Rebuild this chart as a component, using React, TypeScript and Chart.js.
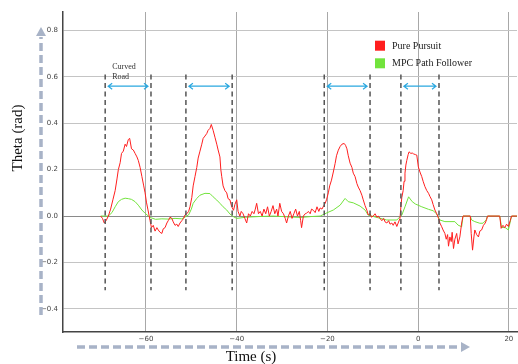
import React, { useEffect, useRef } from 'react';
import { Chart, registerables } from 'chart.js';

Chart.register(...registerables);

// ---- Data ----
const timePursuit = [
  -70.0, -69.6, -69.2, -68.8, -68.3, -67.8, -67.3, -66.8, -66.4, -66.1, -65.7, -65.4, -65.0, -64.6, -64.3, -63.9,
  -63.6, -63.2, -62.8, -62.4, -62.0, -61.7, -61.3, -60.9, -60.5, -60.2, -59.9, -59.6, -59.1, -58.8, -58.4, -58.0,
  -57.6, -57.3, -56.9, -56.5, -56.2, -55.8, -55.4, -55.1, -54.7, -54.3, -54.0, -53.6, -53.2, -52.9, -52.5, -52.1,
  -51.7, -51.4, -51.0, -50.6, -50.3, -49.9, -49.6, -49.2, -48.8, -48.5, -48.1, -47.7, -47.4, -47.0, -46.6, -46.3,
  -45.9, -45.6, -45.2, -44.8, -44.4, -44.1, -43.7, -43.5, -43.3, -43.0, -42.6, -42.2, -41.9, -41.5, -41.1, -40.7,
  -40.4, -40.0, -39.7, -39.3, -39.0, -38.6, -38.2, -37.8, -37.4, -37.0, -36.6, -36.2, -35.9, -35.6, -35.2, -34.8,
  -34.4, -34.0, -33.6, -33.2, -32.8, -32.4, -32.0, -31.6, -31.2, -30.9, -30.5, -30.1, -29.7, -29.3, -29.0, -28.6,
  -28.2, -27.8, -27.4, -27.0, -26.6, -26.2, -25.9, -25.7, -25.3, -24.9, -24.6, -24.2, -23.8, -23.5, -23.1, -22.7,
  -22.3, -21.9, -21.6, -21.2, -20.8, -20.5, -20.2, -19.8, -19.5, -19.1, -18.7, -18.3, -18.0, -17.6, -17.2, -16.8,
  -16.3, -16.0, -15.7, -15.4, -15.0, -14.6, -14.3, -13.9, -13.5, -13.2, -12.8, -12.4, -12.1, -11.7, -11.3, -11.0,
  -10.6, -10.3, -9.9, -9.5, -9.1, -8.8, -8.4, -8.0, -7.6, -7.3, -6.9, -6.5, -6.2, -5.8, -5.5, -5.1,
  -4.7, -4.4, -4.0, -3.8, -3.6, -3.3, -3.1, -2.9, -2.7, -2.5, -2.2, -2.0, -1.6, -1.3, -1.0, -0.6,
  -0.3, 0.05, 0.4, 0.8, 1.1, 1.5, 1.9, 2.3, 2.6, 3.0, 3.3, 3.7, 4.1, 4.5, 4.8, 5.2,
  5.5, 5.9, 6.2, 6.5, 6.7, 7.0, 7.3, 7.5, 7.8, 8.1, 8.5, 8.8, 9.2, 9.6, 9.9, 11.5,
  11.7, 12.0, 12.3, 12.5, 12.9, 13.3, 13.6, 14.0, 14.4, 14.8, 15.1, 15.3, 18.0, 18.3, 18.7, 19.1,
  19.5, 19.9, 20.3, 20.6, 21.8,
];
const pursuitTheta = [
  0.0, -0.01, -0.03, -0.02, 0.0, 0.03, 0.07, 0.11, 0.16, 0.2, 0.23, 0.27, 0.28, 0.31, 0.3, 0.33,
  0.335, 0.29, 0.285, 0.27, 0.255, 0.24, 0.21, 0.17, 0.13, 0.1, 0.06, 0.03, -0.02, -0.05, -0.04, -0.065,
  -0.05, -0.06, -0.07, -0.075, -0.055, -0.05, -0.03, -0.02, -0.005, -0.01, -0.025, -0.04, -0.035, -0.045, -0.03, -0.02,
  -0.01, 0.005, 0.01, 0.02, 0.04, 0.08, 0.13, 0.17, 0.21, 0.25, 0.28, 0.31, 0.335, 0.345, 0.356, 0.37,
  0.378, 0.395, 0.37, 0.34, 0.31, 0.285, 0.255, 0.2, 0.17, 0.13, 0.11, 0.1, 0.075, 0.07, 0.04, 0.025,
  0.05, 0.07, 0.02, 0.0, 0.02, 0.01, -0.01, -0.03, 0.01, 0.0, 0.02, 0.01, 0.03, 0.055, 0.01, 0.02,
  0.0, 0.03, 0.01, 0.04, 0.0, 0.02, 0.045, 0.01, 0.03, 0.0, 0.055, 0.02, 0.01, -0.01, -0.03, 0.0,
  0.02, -0.01, 0.01, 0.03, 0.0, 0.02, -0.02, -0.05, 0.0, 0.01, 0.012, 0.02, 0.01, 0.03, 0.025, 0.015,
  0.04, 0.02, 0.035, 0.03, 0.045, 0.055, 0.07, 0.1, 0.13, 0.155, 0.19, 0.227, 0.26, 0.284, 0.3, 0.31,
  0.313, 0.305, 0.29, 0.26, 0.228, 0.21, 0.185, 0.17, 0.14, 0.125, 0.11, 0.09, 0.07, 0.045, 0.025, 0.005,
  0.01, -0.005, 0.0, 0.01, -0.005, 0.0, -0.01, -0.02, -0.01, -0.025, -0.03, -0.02, -0.035, -0.03, -0.04, -0.025,
  -0.045, -0.03, -0.01, 0.04, 0.08, 0.11, 0.15, 0.185, 0.22, 0.24, 0.265, 0.277, 0.27, 0.272, 0.268, 0.265,
  0.263, 0.212, 0.19, 0.17, 0.15, 0.127, 0.11, 0.098, 0.085, 0.07, 0.05, 0.026, 0.01, -0.01, -0.03, -0.046,
  -0.06, -0.075, -0.1, -0.08, -0.13, -0.09, -0.11, -0.07, -0.14, -0.1, -0.075, -0.12, -0.09, -0.03, 0.0, 0.0,
  -0.075, -0.147, -0.09, -0.06, -0.08, -0.09, -0.065, -0.06, -0.04, -0.03, -0.015, 0.0, 0.0, -0.053, -0.04, -0.05,
  -0.035, -0.045, -0.02, 0.0, 0.0,
];

const timeMpc = [
  -70.0, -68.3, -67.5, -66.8, -66.1, -65.4, -64.6, -63.9, -63.2, -62.4, -61.7, -60.9, -60.2, -59.1, -57.9, -56.5,
  -55.1, -53.6, -52.1, -50.6, -50.0, -49.6, -48.8, -48.1, -47.0, -45.9, -45.2, -44.4, -43.7, -43.0, -42.2, -41.5,
  -40.7, -40.0, -38.0, -35.0, -32.0, -29.0, -26.0, -23.5, -21.6, -20.1, -18.7, -17.2, -16.1, -15.4, -14.3, -12.8,
  -11.7, -11.0, -9.1, -6.9, -4.7, -4.0, -3.6, -2.9, -2.1, -1.3, -0.6, 0.8, 2.3, 3.3, 4.1, 4.8,
  5.9, 8.1, 8.8, 9.6, 9.9, 11.5, 11.8, 12.5, 13.6, 14.3, 15.0, 15.3, 18.0, 18.4, 19.2, 19.9,
  20.6, 21.8,
];
const mpcTheta = [
  0.0, 0.0, 0.015, 0.04, 0.062, 0.072, 0.077, 0.075, 0.072, 0.062, 0.047, 0.026, 0.012, -0.006, -0.014, -0.012,
  -0.013, -0.01, -0.012, 0.005, 0.03, 0.055, 0.076, 0.09, 0.098, 0.097, 0.083, 0.069, 0.055, 0.04, 0.026, 0.009,
  -0.003, -0.01, -0.005, -0.002, 0.0, -0.003, -0.006, -0.002, 0.0, 0.014, 0.026, 0.047, 0.076, 0.062, 0.057, 0.043,
  0.026, 0.004, -0.006, -0.017, -0.017, -0.003, 0.004, 0.04, 0.083, 0.062, 0.052, 0.04, 0.029, 0.023, 0.009, -0.017,
  -0.024, -0.024, -0.039, -0.046, 0.0, 0.0, -0.017, -0.024, -0.031, -0.031, -0.017, 0.0, 0.0, -0.049, -0.05, -0.06,
  0.0, 0.0,
];

const seriesLabels = ['Pure Pursuit', 'MPC Path Follower'];
const xTickValues = [-60, -40, -20, 0, 20];
const yTickValues = [-0.4, -0.2, 0.0, 0.2, 0.4, 0.6, 0.8];
const curveStarts = [-69.0, -51.2, -20.7, -3.8];
const curveEnds = [-58.9, -41.0, -10.6, 4.6];
const curveLabel = ['Curved', 'Road'];

const RED = '#ff1e1e';
const GREEN = '#72e33c';

const fmt = (v: number, digits: number) => {
  const s = Math.abs(v).toFixed(digits);
  return v < -1e-9 ? '\u2212' + s : s;
};

const annotations = {
  id: 'figureAnnotations',
  afterDatasetsDraw(chart: any) {
    const { ctx, scales } = chart;
    const x = scales.x;
    const y = scales.y;
    ctx.save();

    // dashed curve boundaries
    ctx.strokeStyle = '#555';
    ctx.lineWidth = 1.5;
    ctx.setLineDash([5, 3.5]);
    const yTop = y.getPixelForValue(0.61);
    const yBot = y.getPixelForValue(-0.32);
    [...curveStarts, ...curveEnds].forEach((v) => {
      const px = x.getPixelForValue(v);
      ctx.beginPath();
      ctx.moveTo(px, yTop);
      ctx.lineTo(px, yBot);
      ctx.stroke();
    });

    // double-headed arrows
    ctx.setLineDash([]);
    ctx.strokeStyle = '#2aa8e0';
    ctx.lineWidth = 1.2;
    const ay = y.getPixelForValue(0.56);
    curveStarts.forEach((s, i) => {
      const x1 = x.getPixelForValue(s) + 3;
      const x2 = x.getPixelForValue(curveEnds[i]) - 3;
      ctx.beginPath();
      ctx.moveTo(x1, ay);
      ctx.lineTo(x2, ay);
      ctx.moveTo(x1 + 4, ay - 3);
      ctx.lineTo(x1, ay);
      ctx.lineTo(x1 + 4, ay + 3);
      ctx.moveTo(x2 - 4, ay - 3);
      ctx.lineTo(x2, ay);
      ctx.lineTo(x2 - 4, ay + 3);
      ctx.stroke();
    });

    // "Curved Road" label
    ctx.fillStyle = '#333';
    ctx.font = '8px "Liberation Serif", serif';
    ctx.textAlign = 'left';
    ctx.textBaseline = 'middle';
    const lx = x.getPixelForValue(curveStarts[0]) + 7;
    ctx.fillText(curveLabel[0], lx, y.getPixelForValue(0.645));
    ctx.fillText(curveLabel[1], lx, y.getPixelForValue(0.598));

    // legend
    const colors = [RED, GREEN];
    ctx.font = '10px "Liberation Serif", serif';
    seriesLabels.forEach((lab, i) => {
      const cy = 45.7 + i * 17.6;
      ctx.fillStyle = colors[i];
      ctx.fillRect(375, cy - 5, 10, 10);
      ctx.fillStyle = '#222';
      ctx.fillText(lab, 392, cy + 0.5);
    });
    ctx.restore();
  },
  afterDraw(chart: any) {
    const { ctx } = chart;
    ctx.save();
    // axis titles
    ctx.fillStyle = '#111';
    ctx.font = '15px "Liberation Serif", serif';
    ctx.textAlign = 'center';
    ctx.textBaseline = 'middle';
    ctx.fillText('Time (s)', 251, 357);
    ctx.translate(18, 138);
    ctx.rotate(-Math.PI / 2);
    ctx.fillText('Theta (rad)', 0, 0);
    ctx.restore();

    // decorative dashed arrows
    ctx.save();
    ctx.strokeStyle = '#a8b3c7';
    ctx.fillStyle = '#a8b3c7';
    ctx.lineWidth = 3.5;
    ctx.setLineDash([8, 4]);
    ctx.beginPath();
    ctx.moveTo(41, 315);
    ctx.lineTo(41, 37);
    ctx.stroke();
    ctx.beginPath();
    ctx.moveTo(77, 347);
    ctx.lineTo(460, 347);
    ctx.stroke();
    ctx.setLineDash([]);
    ctx.beginPath();
    ctx.moveTo(41, 27);
    ctx.lineTo(36, 36);
    ctx.lineTo(46, 36);
    ctx.closePath();
    ctx.fill();
    ctx.beginPath();
    ctx.moveTo(470, 347);
    ctx.lineTo(461, 342);
    ctx.lineTo(461, 352);
    ctx.closePath();
    ctx.fill();
    ctx.restore();
  },
};

export default function App() {
  const ref = useRef<HTMLCanvasElement | null>(null);

  useEffect(() => {
    if (!ref.current) return;
    const chart = new Chart(ref.current, {
      type: 'line',
      data: {
        datasets: [
          {
            label: seriesLabels[0],
            data: timePursuit.map((t, i) => ({ x: t, y: pursuitTheta[i] })),
            borderColor: RED,
            borderWidth: 1,
            pointRadius: 0,
            tension: 0,
          },
          {
            label: seriesLabels[1],
            data: timeMpc.map((t, i) => ({ x: t, y: mpcTheta[i] })),
            borderColor: GREEN,
            borderWidth: 1,
            pointRadius: 0,
            tension: 0,
          },
        ],
      },
      options: {
        animation: false,
        responsive: false,
        events: [],
        layout: { padding: { top: 12, right: 1, left: 0, bottom: 0 } },
        plugins: { legend: { display: false }, tooltip: { enabled: false } },
        scales: {
          x: {
            type: 'linear',
            min: -78.3,
            max: 21.8,
            afterFit: (s: any) => { s.height = 32; },
            afterBuildTicks: (s: any) => { s.ticks = xTickValues.map((v) => ({ value: v })); },
            ticks: {
              padding: 3,
              color: '#444',
              font: { family: '"DejaVu Sans", sans-serif', size: 7 },
              callback: (v: any) => fmt(Number(v), 0),
            },
            grid: { color: '#a8a8a8', lineWidth: 1, drawTicks: false },
            border: { display: true, color: '#444', width: 1.5 },
          },
          y: {
            type: 'linear',
            min: -0.5,
            max: 0.88,
            afterFit: (s: any) => { s.width = 63; },
            afterBuildTicks: (s: any) => { s.ticks = yTickValues.map((v) => ({ value: v })); },
            ticks: {
              padding: 5,
              color: '#444',
              font: { family: '"DejaVu Sans", sans-serif', size: 7 },
              callback: (v: any) => fmt(Number(v), 1),
            },
            grid: {
              color: (c: any) => (c.tick && Math.abs(c.tick.value) < 1e-9 ? '#8a8a8a' : '#c4c4c4'),
              lineWidth: 1,
              drawTicks: false,
            },
            border: { display: true, color: '#444', width: 1.5 },
          },
        },
      },
      plugins: [annotations],
    } as any);
    return () => chart.destroy();
  }, []);

  return (
    <div style={{ position: 'absolute', left: 0, top: 0, width: 518, height: 364, background: '#fff' }}>
      <canvas ref={ref} width={518} height={364} />
    </div>
  );
}
